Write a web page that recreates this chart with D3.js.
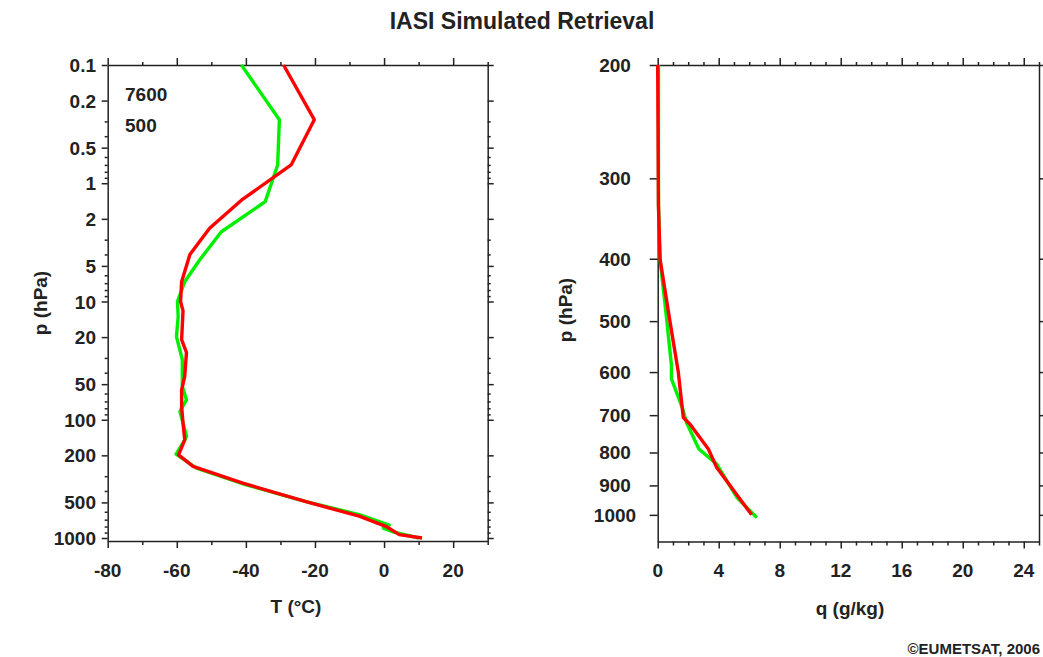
<!DOCTYPE html>
<html>
<head>
<meta charset="utf-8">
<script src="https://cdn.jsdelivr.net/npm/d3@7"></script>
<style>
  body { margin: 0; background: #fff; }
  svg text { font-family: "Liberation Sans", Arial, Helvetica, sans-serif; font-weight: bold; fill: #222; }
  .axis path, .axis line { stroke: #222; stroke-width: 1.5px; }
</style>
</head>
<body>
<svg id="chart" width="1043" height="657"></svg>
<script>
// temperature profile (left panel), green = true, red = retrieved
const pTGreen = [0.1, 0.29, 0.7, 1.43, 2.57, 4.5, 6.8, 10, 13.4, 19.8, 31, 52, 68, 85, 138, 145, 195, 256, 355, 493, 634, 779, 824, 888, 1000];
const tGreen  = [-41.3, -30.3, -30.8, -34.4, -47.1, -53.5, -57.7, -59.8, -59.6, -60.1, -58.4, -58.4, -57.2, -59.1, -57.2, -57.5, -60.2, -54.3, -39.9, -22.6, -7.2, 1.5, -0.2, 2.6, 10];
const pTRed = [0.1, 0.29, 0.7, 1.39, 2.4, 4.0, 6.8, 10, 12, 21, 27, 43, 56, 78, 106, 148, 186, 198, 248, 344, 493, 654, 796, 937, 1000];
const tRed  = [-29.1, -20.2, -26.9, -41.3, -50.5, -56.2, -58.6, -58.9, -58.2, -58.6, -57.2, -57.7, -58.6, -58.6, -58.2, -57.7, -59.1, -59.5, -55.3, -40.9, -22.6, -7.2, 0.5, 4.4, 11];

// humidity profile (right panel)
const pQGreen = [200, 330, 400, 500, 585, 615, 680, 720, 790, 834, 940, 1010];
const qGreen  = [0.05, 0.05, 0.15, 0.6, 0.9, 0.9, 1.6, 1.9, 2.7, 3.87, 5.2, 6.5];
const pQRed = [200, 330, 400, 500, 600, 706, 723, 790, 844, 900, 1000];
const qRed  = [0.0, 0.05, 0.15, 0.8, 1.35, 1.68, 2.12, 3.32, 3.87, 4.74, 6.16];

const pTicksT = [0.1, 0.2, 0.5, 1, 2, 5, 10, 20, 50, 100, 200, 500, 1000];
const tTicks = [-80, -60, -40, -20, 0, 20];
const pTicksQ = [200, 300, 400, 500, 600, 700, 800, 900, 1000];
const qTicks = [0, 4, 8, 12, 16, 20, 24];

const svg = d3.select("#chart");
svg.append("rect").attr("width", 1043).attr("height", 657).attr("fill", "#fff");

svg.append("text").attr("x", 522).attr("y", 29).attr("text-anchor", "middle")
  .style("font-size", "23px").text("IASI Simulated Retrieval");

// minor ticks for log axis
const minorLog = [];
[0.1, 1, 10, 100].forEach(d => [3, 4, 6, 7, 8, 9].forEach(m => minorLog.push(d * m)));

function frame(g, x, y, o) {
  const [x0, x1] = x.range();
  const [y0, y1] = y.range();
  // left
  g.append("g").attr("class", "axis").attr("transform", `translate(${x0},0)`)
    .call(d3.axisLeft(y).tickValues(o.yMajor).tickSize(o.yTick).tickSizeOuter(0).tickFormat(""));
  // right
  g.append("g").attr("class", "axis").attr("transform", `translate(${x1},0)`)
    .call(d3.axisRight(y).tickValues(o.yMajor).tickSize(o.yTick).tickSizeOuter(0).tickFormat(""));
  if (o.yMinor) {
    g.append("g").attr("class", "axis").attr("transform", `translate(${x0},0)`)
      .call(d3.axisLeft(y).tickValues(o.yMinor).tickSize(3).tickSizeOuter(0).tickFormat(""))
      .select(".domain").remove();
    g.append("g").attr("class", "axis").attr("transform", `translate(${x1},0)`)
      .call(d3.axisRight(y).tickValues(o.yMinor).tickSize(3).tickSizeOuter(0).tickFormat(""))
      .select(".domain").remove();
  }
  // top
  g.append("g").attr("class", "axis").attr("transform", `translate(0,${y0})`)
    .call(d3.axisTop(x).tickValues(o.xMajor).tickSize(7).tickSizeOuter(0).tickFormat(""));
  g.append("g").attr("class", "axis").attr("transform", `translate(0,${y0})`)
    .call(d3.axisTop(x).tickValues(o.xMinor).tickSize(3).tickSizeOuter(0).tickFormat(""))
    .select(".domain").remove();
  // bottom
  g.append("g").attr("class", "axis").attr("transform", `translate(0,${y1})`)
    .call(d3.axisBottom(x).tickValues(o.xMajor).tickSize(7).tickSizeOuter(0).tickFormat(""));
  g.append("g").attr("class", "axis").attr("transform", `translate(0,${y1})`)
    .call(d3.axisBottom(x).tickValues(o.xMinor).tickSize(4).tickSizeOuter(0).tickFormat(""))
    .select(".domain").remove();
  // labels
  g.selectAll(".xl").data(o.xMajor).enter().append("text")
    .attr("x", d => x(d)).attr("y", 577).attr("text-anchor", "middle")
    .style("font-size", "19px").text(d => d);
  g.selectAll(".yl").data(o.yMajor).enter().append("text")
    .attr("x", o.yLabelX).attr("y", d => y(d) + 7).attr("text-anchor", o.yAnchor)
    .style("font-size", "19px").text(d => d);
}

const line = d3.line().x(d => d.x).y(d => d.y);

// ---- left panel
const xT = d3.scaleLinear().domain([-80, 30]).range([107.7, 487.7]);
const yT = d3.scaleLog().domain([0.1, 1060]).range([65, 541]);
const gL = svg.append("g");
const tMinor = d3.range(-70, 31, 20);
frame(gL, xT, yT, { yMajor: pTicksT, yMinor: minorLog, yTick: 6, xMajor: tTicks, xMinor: tMinor, yLabelX: 96, yAnchor: "end" });

gL.append("path").datum(pTGreen.map((p, i) => ({ x: xT(tGreen[i]), y: yT(p) })))
  .attr("d", line).attr("fill", "none").attr("stroke", "#00f000").attr("stroke-width", 3.4).attr("stroke-linejoin", "round");
gL.append("path").datum(pTRed.map((p, i) => ({ x: xT(tRed[i]), y: yT(p) })))
  .attr("d", line).attr("fill", "none").attr("stroke", "#ff0000").attr("stroke-width", 3.4).attr("stroke-linejoin", "round");

gL.append("text").attr("x", 125).attr("y", 101).style("font-size", "19px").text("7600");
gL.append("text").attr("x", 125).attr("y", 132).style("font-size", "19px").text("500");

gL.append("text").attr("x", 296).attr("y", 613).attr("text-anchor", "middle").style("font-size", "19px").text("T (°C)");
gL.append("text").attr("transform", "translate(47,303) rotate(-90)").attr("text-anchor", "middle")
  .style("font-size", "19px").text("p (hPa)");

// ---- right panel
const xQ = d3.scaleLinear().domain([0, 25]).range([657.7, 1039]);
const yQ = d3.scaleLog().domain([200, 1100]).range([65, 541.5]);
const gR = svg.append("g");
const qMinor = d3.range(0, 26, 1).filter(d => d % 4 !== 0);
frame(gR, xQ, yQ, { yMajor: pTicksQ, yMinor: null, yTick: 8, xMajor: qTicks, xMinor: qMinor, yLabelX: 615, yAnchor: "middle" });

gR.append("path").datum(pQGreen.map((p, i) => ({ x: xQ(qGreen[i]), y: yQ(p) })))
  .attr("d", line).attr("fill", "none").attr("stroke", "#00f000").attr("stroke-width", 3.4).attr("stroke-linejoin", "round");
gR.append("path").datum(pQRed.map((p, i) => ({ x: xQ(qRed[i]), y: yQ(p) })))
  .attr("d", line).attr("fill", "none").attr("stroke", "#ff0000").attr("stroke-width", 3.4).attr("stroke-linejoin", "round");

gR.append("text").attr("x", 850).attr("y", 615).attr("text-anchor", "middle").style("font-size", "19px").text("q (g/kg)");
gR.append("text").attr("transform", "translate(572,310) rotate(-90)").attr("text-anchor", "middle")
  .style("font-size", "19px").text("p (hPa)");

svg.append("text").attr("x", 1040).attr("y", 654).attr("text-anchor", "end")
  .style("font-size", "15px").text("©EUMETSAT, 2006");
</script>
</body>
</html>
